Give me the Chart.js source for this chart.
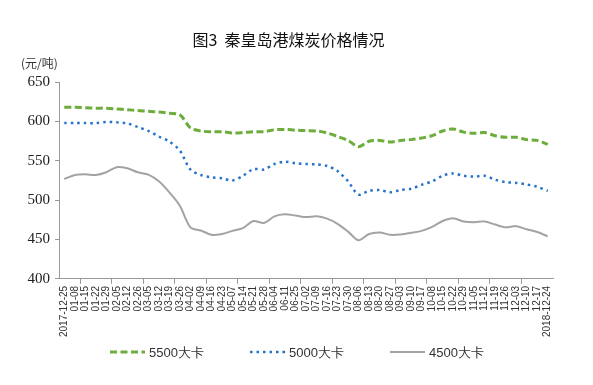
<!DOCTYPE html>
<html>
<head>
<meta charset="utf-8">
<script src="https://cdn.jsdelivr.net/npm/chart.js@4"></script>
<style>
  html, body { margin: 0; padding: 0; background: #fff; }
  #wrap { width: 593px; height: 385px; }
</style>
</head>
<body>
<div id="wrap"><canvas id="coal"></canvas></div>
<script>
const dates = ["2017-12-25","01-08","01-15","01-22","01-29","02-05","02-12","02-26","03-05","03-12","03-19","03-26",
  "04-02","04-09","04-16","04-23","05-07","05-14","05-21","05-28","06-04","06-11","06-25","07-02","07-09","07-16",
  "07-23","07-30","08-06","08-13","08-20","08-27","09-03","09-10","09-17","10-08","10-15","10-22","10-29","11-05",
  "11-12","11-19","11-26","12-03","12-10","12-17","2018-12-24"];

const price5500 = [618,618,617.5,617,617,616,615,614,613,612,610.5,608.5,
  592,588,587,587,585.5,586,587,587,589.5,590,589,588.5,588,585.5,
  581,576,568,575,576,574,576,577,579,582,588,590.5,586.5,585,
  586,582,580,580,577,576,571];

const price5000 = [598,598,598,598,599.5,599,597.5,593,588,581,574.5,563,
  539,532,529,528,525,531,539.5,539,546,549,547,546,545.5,543.5,
  537,524,507,512,513,510,513,514.5,519.5,524,531,534,531,530,
  531,526,523,522,520,517,512];

const price4500 = [527,532,533,532,535.5,542,540.5,535.5,532.5,524,510,493,
  465.5,461.5,456,457,461,464.5,473.5,471,479.5,482,480.5,478.5,479.5,476.5,
  470,460,449,457,459,456,456.5,458.5,461,466,473.5,477,473,472,
  473,469,465.5,467,463,459.5,454];

const yTicks = [400, 450, 500, 550, 600, 650];

// unit label above the y axis, and a legend laid out like the original
const extras = {
  id: 'extras',
  afterDraw(chart) {
    const ctx = chart.ctx;
    const area = chart.chartArea;
    ctx.save();
    ctx.font = '12px "Noto Sans CJK SC"';
    ctx.fillStyle = '#333';
    ctx.textAlign = 'left';
    ctx.textBaseline = 'middle';
    ctx.fillText('(元/吨)', 21, area.top - 19);

    const legendY = 352;
    let x = 110;
    ctx.font = '13px "Liberation Sans"';
    chart.data.datasets.forEach((ds) => {
      ctx.beginPath();
      ctx.setLineDash(ds.borderDash || []);
      ctx.lineWidth = ds.borderWidth;
      ctx.strokeStyle = ds.borderColor;
      ctx.moveTo(x, legendY);
      ctx.lineTo(x + 35, legendY);
      ctx.stroke();
      ctx.setLineDash([]);
      ctx.fillStyle = '#333';
      ctx.fillText(ds.label, x + 39, legendY + 1);
      x += 140;
    });
    ctx.restore();
  }
};

new Chart(document.getElementById('coal'), {
  type: 'line',
  data: {
    labels: dates,
    datasets: [
      {
        label: '5500大卡',
        data: price5500,
        borderColor: '#6cad3c',
        backgroundColor: '#6cad3c',
        borderWidth: 3,
        borderDash: [7, 3.5],
        pointRadius: 0,
        tension: 0.3
      },
      {
        label: '5000大卡',
        data: price5000,
        borderColor: '#2673cc',
        backgroundColor: '#2673cc',
        borderWidth: 2.5,
        borderDash: [2.5, 4],
        pointRadius: 0,
        tension: 0.3
      },
      {
        label: '4500大卡',
        data: price4500,
        borderColor: '#a3a3a3',
        backgroundColor: '#a3a3a3',
        borderWidth: 2,
        pointRadius: 0,
        tension: 0.3
      }
    ]
  },
  options: {
    responsive: true,
    maintainAspectRatio: false,
    animation: false,
    layout: { padding: { left: 24, right: 40, top: 0, bottom: 46 } },
    plugins: {
      title: {
        display: true,
        text: '图3  秦皇岛港煤炭价格情况',
        color: '#111',
        font: { family: '"Noto Sans CJK SC"', size: 16, weight: 'normal' },
        padding: { top: 30, bottom: 33 }
      },
      legend: { display: false },
      tooltip: { enabled: false }
    },
    scales: {
      x: {
        offset: true,
        grid: {
          offset: true,
          drawOnChartArea: false,
          tickLength: 5,
          tickColor: (c) => (c.index % 3 === 2 ? '#999' : 'rgba(0,0,0,0)')
        },
        border: { color: '#999' },
        ticks: {
          autoSkip: false,
          maxRotation: 90,
          minRotation: 90,
          padding: 2,
          color: '#333',
          font: { family: '"Liberation Sans"', size: 10 }
        }
      },
      y: {
        min: 400,
        max: 650,
        afterBuildTicks: (scale) => { scale.ticks = yTicks.map(v => ({ value: v })); },
        afterFit: (scale) => { scale.width = 35; },
        grid: { drawOnChartArea: false, tickLength: 4, color: '#999' },
        border: { color: '#999' },
        ticks: {
          padding: 5,
          color: '#222',
          font: { family: '"Liberation Serif"', size: 15 }
        }
      }
    }
  },
  plugins: [extras]
});
</script>
</body>
</html>
